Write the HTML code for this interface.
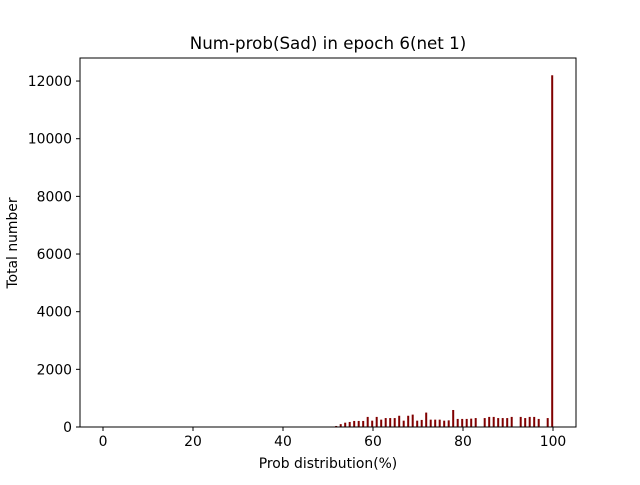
<!DOCTYPE html>
<html><head><meta charset="utf-8"><style>
body{margin:0;background:#fff}
svg text{font-family:"DejaVu Sans","Liberation Sans",sans-serif;fill:#000}
</style></head><body>
<svg id="chart" width="640" height="480" xmlns="http://www.w3.org/2000/svg">
<rect width="640" height="480" fill="#fff"/>
<text x="328" y="49" font-size="16.7" text-anchor="middle">Num-prob(Sad) in epoch 6(net 1)</text>
<text x="328" y="468" font-size="13.9" text-anchor="middle">Prob distribution(%)</text>
<text transform="translate(17,243) rotate(-90)" font-size="13.9" text-anchor="middle">Total number</text>
<g id="bars"></g><g id="xt"></g><g id="yt"></g>
<rect x="80" y="58" width="496" height="369" fill="none" stroke="#000" stroke-width="1"/>
</svg>
<script>
const categories=[52,53,54,55,56,57,58,59,60,61,62,63,64,65,66,67,68,69,70,71,72,73,74,75,76,77,78,79,80,81,82,83,85,86,87,88,89,90,91,93,94,95,96,97,99,100];
const counts=[35,100,150,175,210,210,210,350,220,350,255,310,310,310,390,220,390,430,220,245,500,255,255,255,220,230,590,280,280,280,290,310,310,350,350,310,310,310,350,350,310,350,350,280,310,12200];
const xTicks=[0,20,40,60,80,100];
const yTicks=[0,2000,4000,6000,8000,10000,12000];
const NS="http://www.w3.org/2000/svg";
const xs=v=>103+v*4.5, ys=v=>427-v*0.02883;
const bars=document.getElementById('bars');
categories.forEach((c,i)=>{
 const r=document.createElementNS(NS,'rect');
 const y=ys(counts[i]);
 r.setAttribute('x',xs(c)-1.8);r.setAttribute('width',2);
 r.setAttribute('y',y);r.setAttribute('height',427-y);r.setAttribute('fill','#800000');
 
 
 bars.appendChild(r);
});
const xt=document.getElementById('xt');
xTicks.forEach(t=>{
 const l=document.createElementNS(NS,'line');
 l.setAttribute('x1',xs(t));l.setAttribute('x2',xs(t));l.setAttribute('y1',427);l.setAttribute('y2',431);l.setAttribute('stroke','#000');
 
 
 xt.appendChild(l);
 const tx=document.createElementNS(NS,'text');
 tx.setAttribute('x',xs(t));tx.setAttribute('y',446);tx.setAttribute('font-size','13.9');tx.setAttribute('text-anchor','middle');
 tx.textContent=t;
 
 
 xt.appendChild(tx);
});
const yt=document.getElementById('yt');
yTicks.forEach(t=>{
 const l=document.createElementNS(NS,'line');
 l.setAttribute('x1',76);l.setAttribute('x2',80);l.setAttribute('y1',ys(t));l.setAttribute('y2',ys(t));l.setAttribute('stroke','#000');
 
 
 yt.appendChild(l);
 const tx=document.createElementNS(NS,'text');
 tx.setAttribute('x',72);tx.setAttribute('y',ys(t)+5);tx.setAttribute('font-size','13.9');tx.setAttribute('text-anchor','end');
 tx.textContent=t;
 
 
 yt.appendChild(tx);
});
</script>
</body></html>
